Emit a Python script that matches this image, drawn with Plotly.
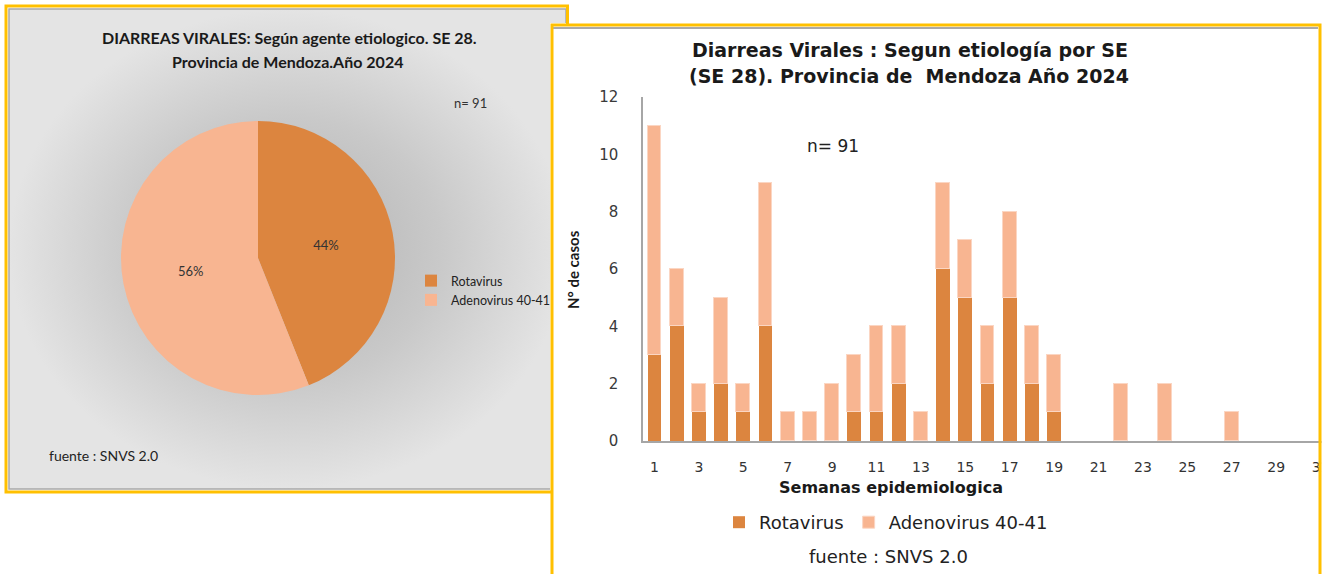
import plotly.graph_objects as go

# ---------------- data ----------------
weeks = list(range(1, 32))
rotavirus = [3, 4, 1, 2, 1, 4, 0, 0, 0, 1, 1, 2, 0, 6, 5, 2, 5, 2, 1,
             0, 0, 0, 0, 0, 0, 0, 0, 0, 0, 0, 0]
adenovirus = [8, 2, 1, 3, 1, 5, 1, 1, 2, 2, 3, 2, 1, 3, 2, 2, 3, 2, 2,
              0, 0, 2, 0, 2, 0, 0, 1, 0, 0, 0, 0]
series_names = ["Rotavirus", "Adenovirus 40-41"]
pie_values = [sum(rotavirus), sum(adenovirus)]
y_ticks = [0, 2, 4, 6, 8, 10, 12]
x_ticks = list(range(1, 32, 2))

DARK = "#DC853F"
LIGHT = "#F8B591"
YELLOW = "#FFC000"
W, H = 1329, 574

fig = go.Figure()

# left panel background (radial grey gradient)
fig.add_trace(go.Scatter(
    x=[9, 566, 566, 550, 550, 9, 9], y=[9, 9, 23, 23, 489, 489, 9],
    xaxis="x2", yaxis="y2", mode="lines", line=dict(width=0),
    fill="toself",
    fillgradient=dict(type="radial",
                      colorscale=[[0, "#b0b0b0"], [0.55, "#c9c9c9"], [1, "#e4e4e4"]]),
    hoverinfo="skip", showlegend=False))

# stacked bars
fig.add_trace(go.Bar(
    x=weeks, y=[v if v else None for v in rotavirus], name=series_names[0],
    marker=dict(color=DARK, line=dict(width=0)), width=0.62, legend="legend2"))
fig.add_trace(go.Bar(
    x=weeks, y=[v if v else None for v in adenovirus], name=series_names[1],
    marker=dict(color=LIGHT, line=dict(color="#FBD6C3", width=1)), width=0.62,
    legend="legend2"))

# pie
fig.add_trace(go.Pie(
    labels=series_names, values=pie_values, sort=False, direction="clockwise",
    rotation=0, marker=dict(colors=[DARK, LIGHT], line=dict(width=0)),
    texttemplate="%{percent:.0%}", textposition="inside",
    insidetextorientation="horizontal",
    textfont=dict(family="Lato", size=13, color="#333333"),
    domain=dict(x=[121 / W, 395 / W], y=[179 / H, 453 / H]),
    legend="legend", hoverinfo="skip"))

fig.update_layout(
    width=W, height=H, margin=dict(l=0, r=0, t=0, b=0, pad=0, autoexpand=False),
    paper_bgcolor="white", plot_bgcolor="rgba(0,0,0,0)",
    barmode="stack", bargap=0,
    xaxis=dict(domain=[643 / W, 1], range=[0.482, 31.38], tickvals=x_ticks,
               showgrid=False, zeroline=False, showline=True, linecolor="#a6a6a6",
               linewidth=2, ticks="", ticklabelstandoff=12, automargin=False,
               ticklabeloverflow="allow",
               tickfont=dict(family="DejaVu Sans", size=14, color="#333333"),
               anchor="y"),
    yaxis=dict(domain=[133 / H, 477 / H], range=[0, 12], tickvals=y_ticks,
               showgrid=False, zeroline=False, showline=True, linecolor="#a6a6a6",
               linewidth=1.5, ticks="", ticklabelstandoff=20, automargin=False,
               tickfont=dict(family="DejaVu Sans", size=15, color="#3a3a3a"),
               anchor="x"),
    xaxis2=dict(domain=[0, 1], range=[0, W], visible=False, anchor="y2",
                automargin=False),
    yaxis2=dict(domain=[0, 1], range=[H, 0], visible=False, anchor="x2",
                automargin=False),
    legend=dict(x=411 / W, xanchor="left", y=1 - 266 / H, yanchor="top",
                bgcolor="rgba(0,0,0,0)", tracegroupgap=0, traceorder="normal",
                font=dict(family="Lato", size=12.5, color="#222222")),
    legend2=dict(orientation="h", x=719 / W, xanchor="left", y=1 - 504 / H,
                 yanchor="top", bgcolor="rgba(0,0,0,0)", traceorder="normal",
                 font=dict(family="DejaVu Sans", size=18, color="#222222")),
    showlegend=True,
)

shapes = [
    dict(type="path", path="M 550 489 L 9 489 L 9 9 L 566 9 L 566 23",
         line=dict(color="#a8a8a8", width=1.5)),
    dict(type="path", path="M 551 492 L 6 492 L 6 6 L 567.5 6 L 567.5 24",
         line=dict(color=YELLOW, width=3)),
    dict(type="rect", x0=1321.5, x1=1330, y0=26, y1=576,
         fillcolor="white", line=dict(width=0)),
    dict(type="line", x0=553, x1=1318, y0=28, y1=28,
         line=dict(color="#aaaaaa", width=2)),
    dict(type="path", path="M 552 580 L 552 25 L 1320 25 L 1320 580",
         line=dict(color=YELLOW, width=3)),
]
for s in shapes:
    s.update(xref="x2", yref="y2", layer="above")
fig.update_layout(shapes=shapes)

def note(text, x, y, family, size, bold=False, color="#1a1a1a", angle=0, xanchor="center"):
    fig.add_annotation(
        text=f"<b>{text}</b>" if bold else text, x=x, y=y, xref="x2", yref="y2",
        showarrow=False, xanchor=xanchor, yanchor="middle", textangle=angle,
        font=dict(family=family, size=size, color=color))

note("DIARREAS VIRALES: Según agente etiologico. SE 28.", 289, 37, "Lato", 16, True)
note("Provincia de Mendoza.Año 2024", 287, 61, "Lato", 16, True)
note("n= 91", 470, 103, "Lato", 13, color="#333333")
note("fuente : SNVS 2.0", 47, 455, "Lato", 14, color="#222222", xanchor="left")

note("Diarreas Virales : Segun etiología por SE", 910, 50, "DejaVu Sans", 19, True)
note("(SE 28). Provincia de  Mendoza Año 2024", 909, 76, "DejaVu Sans", 19, True)
note("n= 91", 833, 146, "DejaVu Sans", 17, color="#222222")
note("Semanas epidemiologica", 891, 487, "DejaVu Sans", 16, True)
note("N° de casos", 573, 270, "Lato", 15, True, angle=-90)
note("fuente : SNVS 2.0", 888, 556, "DejaVu Sans", 18, color="#222222")

fig.write_html("out.html", config={"displayModeBar": False},
               post_script="document.body.style.margin='0';"
                           "document.body.style.overflow='hidden';")
